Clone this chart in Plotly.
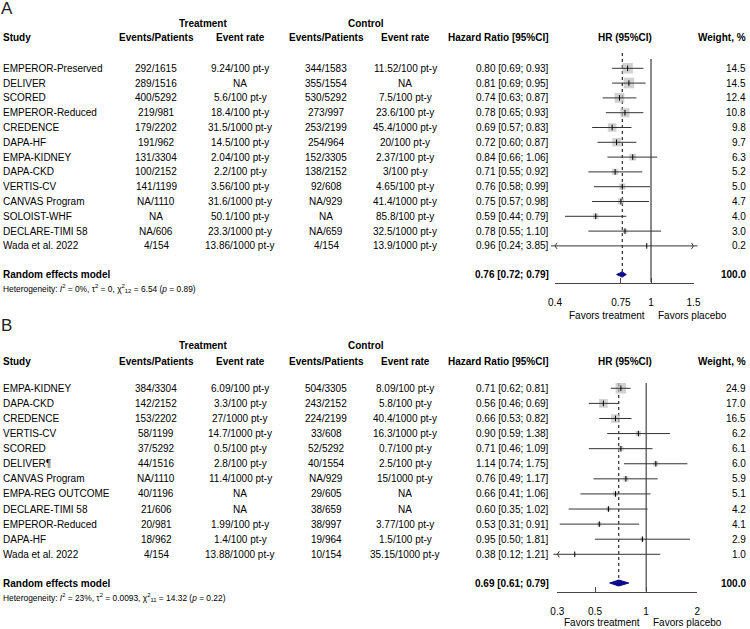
import math
import plotly.graph_objects as go

W, H = 750, 629
FONT = "Liberation Sans, Arial, Helvetica, sans-serif"

# ---------------- Panel A data ----------------
a_study = ["EMPEROR-Preserved", "DELIVER", "SCORED", "EMPEROR-Reduced", "CREDENCE", "DAPA-HF",
           "EMPA-KIDNEY", "DAPA-CKD", "VERTIS-CV", "CANVAS Program", "SOLOIST-WHF",
           "DECLARE-TIMI 58", "Wada et al. 2022"]
a_trt_ep = ["292/1615", "289/1516", "400/5292", "219/981", "179/2202", "191/962", "131/3304",
            "100/2152", "141/1199", "NA/1110", "NA", "NA/606", "4/154"]
a_trt_rate = ["9.24/100 pt-y", "NA", "5.6/100 pt-y", "18.4/100 pt-y", "31.5/1000 pt-y",
              "14.5/100 pt-y", "2.04/100 pt-y", "2.2/100 pt-y", "3.56/100 pt-y",
              "31.6/1000 pt-y", "50.1/100 pt-y", "23.3/1000 pt-y", "13.86/1000 pt-y"]
a_ctl_ep = ["344/1583", "355/1554", "530/5292", "273/997", "253/2199", "254/964", "152/3305",
            "138/2152", "92/608", "NA/929", "NA", "NA/659", "4/154"]
a_ctl_rate = ["11.52/100 pt-y", "NA", "7.5/100 pt-y", "23.6/100 pt-y", "45.4/1000 pt-y",
              "20/100 pt-y", "2.37/100 pt-y", "3/100 pt-y", "4.65/100 pt-y",
              "41.4/1000 pt-y", "85.8/100 pt-y", "32.5/1000 pt-y", "13.9/1000 pt-y"]
a_hr = [0.80, 0.81, 0.74, 0.78, 0.69, 0.72, 0.84, 0.71, 0.76, 0.75, 0.59, 0.78, 0.96]
a_lo = [0.69, 0.69, 0.63, 0.65, 0.57, 0.60, 0.66, 0.55, 0.58, 0.57, 0.44, 0.55, 0.24]
a_hi = [0.93, 0.95, 0.87, 0.93, 0.83, 0.87, 1.06, 0.92, 0.99, 0.98, 0.79, 1.10, 3.85]
a_weight = [14.5, 14.5, 12.4, 10.8, 9.8, 9.7, 6.3, 5.2, 5.0, 4.7, 4.0, 3.0, 0.2]
a_summary = [0.76, 0.72, 0.79]
a_total_weight = 100.0
a_het = ("Heterogeneity: <i>I</i><sup>2</sup> = 0%, τ<sup>2</sup> = 0, "
         "χ<sup>2</sup><sub>12</sub> = 6.54 (<i>p</i> = 0.89)")
a_ticks = [0.4, 0.75, 1, 1.5]
a_ticktext = ["0.4", "0.75", "1", "1.5"]

# ---------------- Panel B data ----------------
b_study = ["EMPA-KIDNEY", "DAPA-CKD", "CREDENCE", "VERTIS-CV", "SCORED", "DELIVER¶",
           "CANVAS Program", "EMPA-REG OUTCOME", "DECLARE-TIMI 58", "EMPEROR-Reduced",
           "DAPA-HF", "Wada et al. 2022"]
b_trt_ep = ["384/3304", "142/2152", "153/2202", "58/1199", "37/5292", "44/1516", "NA/1110",
            "40/1196", "21/606", "20/981", "18/962", "4/154"]
b_trt_rate = ["6.09/100 pt-y", "3.3/100 pt-y", "27/1000 pt-y", "14.7/1000 pt-y",
              "0.5/100 pt-y", "2.8/100 pt-y", "11.4/1000 pt-y", "NA", "NA",
              "1.99/100 pt-y", "1.4/100 pt-y", "13.88/1000 pt-y"]
b_ctl_ep = ["504/3305", "243/2152", "224/2199", "33/608", "52/5292", "40/1554", "NA/929",
            "29/605", "38/659", "38/997", "19/964", "10/154"]
b_ctl_rate = ["8.09/100 pt-y", "5.8/100 pt-y", "40.4/1000 pt-y", "16.3/1000 pt-y",
              "0.7/100 pt-y", "2.5/100 pt-y", "15/1000 pt-y", "NA", "NA",
              "3.77/100 pt-y", "1.5/100 pt-y", "35.15/1000 pt-y"]
b_hr = [0.71, 0.56, 0.66, 0.90, 0.71, 1.14, 0.76, 0.66, 0.60, 0.53, 0.95, 0.38]
b_lo = [0.62, 0.46, 0.53, 0.59, 0.46, 0.74, 0.49, 0.41, 0.35, 0.31, 0.50, 0.12]
b_hi = [0.81, 0.69, 0.82, 1.38, 1.09, 1.75, 1.17, 1.06, 1.02, 0.91, 1.81, 1.21]
b_weight = [24.9, 17.0, 16.5, 6.2, 6.1, 6.0, 5.9, 5.1, 4.2, 4.1, 2.9, 1.0]
b_summary = [0.69, 0.61, 0.79]
b_total_weight = 100.0
b_het = ("Heterogeneity: <i>I</i><sup>2</sup> = 23%, τ<sup>2</sup> = 0.0093, "
         "χ<sup>2</sup><sub>11</sub> = 14.32 (<i>p</i> = 0.22)")
b_ticks = [0.3, 0.5, 1, 2]
b_ticktext = ["0.3", "0.5", "1", "2"]

# ---------------- layout constants (pixels) ----------------
COL = dict(study=2, trt_ep=156, trt_rate=240, trt_head=203, ctl_ep=326, ctl_rate=405,
           ctl_head=366, hr=550, hrplot=625, weight=747)

panels = [
    dict(name="A", xa="x", ya="y", study=a_study, trt_ep=a_trt_ep, trt_rate=a_trt_rate,
         ctl_ep=a_ctl_ep, ctl_rate=a_ctl_rate, hr=a_hr, lo=a_lo, hi=a_hi, w=a_weight,
         summ=a_summary, tot=a_total_weight, het=a_het, ticks=a_ticks, ticktext=a_ticktext,
         row0=68.3, step=14.8, top=0, axis=282.5, xl=555, xr=693.5,
         letter=8, grp=23.3, head=37.3, summ_px=274.5, het_px=288.5, fav=316,
         ref_top=59, dot_top=53, refcolor="#8a8a8a", refwidth=2, diam=2.6),
    dict(name="B", xa="x2", ya="y2", study=b_study, trt_ep=b_trt_ep, trt_rate=b_trt_rate,
         ctl_ep=b_ctl_ep, ctl_rate=b_ctl_rate, hr=b_hr, lo=b_lo, hi=b_hi, w=b_weight,
         summ=b_summary, tot=b_total_weight, het=b_het, ticks=b_ticks, ticktext=b_ticktext,
         row0=388.3, step=15.09, top=318, axis=591.5, xl=557.3, xr=697.3,
         letter=325, grp=345, head=361, summ_px=583, het_px=597.5, fav=622,
         ref_top=383, dot_top=383, refcolor="#222222", refwidth=1, diam=3.0),
]

fig = go.Figure()
annotations = []


def ppaper(p):
    return 1 - p / H


def txt(text, xpx, ypaper, anchor="center", size=10, color="black"):
    annotations.append(dict(text=text, x=xpx / W, y=ypaper, xref="paper", yref="paper",
                            xanchor=anchor, yanchor="middle", showarrow=False, borderpad=0,
                            font=dict(family=FONT, size=size, color=color)))


layout_axes = {}
for P in panels:
    row_of = lambda p, P=P: (p - P["row0"]) / P["step"]
    px_of = lambda r, P=P: P["row0"] + r * P["step"]
    xmin, xmax = P["ticks"][0], P["ticks"][-1]
    n = len(P["study"])
    rows = list(range(n))
    r_sum = row_of(P["summ_px"])
    r_axis = row_of(P["axis"])

    # reference line at HR = 1
    fig.add_trace(go.Scatter(x=[1, 1], y=[row_of(P["ref_top"]), r_axis], mode="lines",
                             line=dict(color=P["refcolor"], width=P["refwidth"]),
                             xaxis=P["xa"], yaxis=P["ya"], hoverinfo="skip"))
    # dotted summary line
    fig.add_trace(go.Scatter(x=[P["summ"][0]] * 2, y=[row_of(P["dot_top"]), r_sum],
                             mode="lines", line=dict(color="black", width=1, dash="dot"),
                             xaxis=P["xa"], yaxis=P["ya"], hoverinfo="skip"))
    # squares (area proportional to weight)
    wmax = max(P["w"])
    sizes = [10.5 * math.sqrt(w / wmax) for w in P["w"]]
    fig.add_trace(go.Scatter(x=P["hr"], y=rows, mode="markers",
                             marker=dict(symbol="square", size=sizes, color="#BEBEBE",
                                         line=dict(width=0)),
                             xaxis=P["xa"], yaxis=P["ya"], hoverinfo="skip"))
    # CI lines (clipped to axis range), arrows where clipped
    cx, cy = [], []
    ax_l, ay_l, ax_r, ay_r = [], [], [], []
    for r, lo, hi, est in zip(rows, P["lo"], P["hi"], P["hr"]):
        cx += [max(lo, xmin), min(hi, xmax), None]
        cy += [r, r, None]
        if lo < xmin:
            ax_l.append(xmin)
            ay_l.append(r)
        if hi > xmax:
            ax_r.append(xmax)
            ay_r.append(r)
    fig.add_trace(go.Scatter(x=cx, y=cy, mode="lines", line=dict(color="#333333", width=1),
                             xaxis=P["xa"], yaxis=P["ya"], hoverinfo="skip"))
    for axs, ays, sym in [(ax_l, ay_l, "y-left"), (ax_r, ay_r, "y-right")]:
        if axs:
            fig.add_trace(go.Scatter(x=axs, y=ays, mode="markers",
                                     marker=dict(symbol=sym, size=5,
                                                 line=dict(width=1, color="#333333")),
                                     xaxis=P["xa"], yaxis=P["ya"], hoverinfo="skip",
                                     cliponaxis=False))
    # point estimate ticks
    fig.add_trace(go.Scatter(x=P["hr"], y=rows, mode="markers",
                             marker=dict(symbol="line-ns", size=4,
                                         line=dict(width=1, color="black")),
                             xaxis=P["xa"], yaxis=P["ya"], hoverinfo="skip"))
    # summary diamond
    est, slo, shi = P["summ"]
    dh = P["diam"] / P["step"]
    fig.add_trace(go.Scatter(x=[slo, est, shi, est, slo], y=[r_sum, r_sum - dh, r_sum, r_sum + dh, r_sum],
                             mode="lines", fill="toself", fillcolor="#0A0A8A",
                             line=dict(color="#0A0A8A", width=1),
                             xaxis=P["xa"], yaxis=P["ya"], hoverinfo="skip"))

    # ------- text -------
    txt(P["name"], 0, ppaper(P["letter"]), anchor="left", size=17, color="#222222")
    txt("<b>Treatment</b>", COL["trt_head"], ppaper(P["grp"]))
    txt("<b>Control</b>", COL["ctl_head"], ppaper(P["grp"]))
    hy = ppaper(P["head"])
    txt("<b>Study</b>", COL["study"], hy, anchor="left")
    txt("<b>Events/Patients</b>", COL["trt_ep"], hy)
    txt("<b>Event rate</b>", COL["trt_rate"], hy)
    txt("<b>Events/Patients</b>", COL["ctl_ep"], hy)
    txt("<b>Event rate</b>", COL["ctl_rate"], hy)
    txt("<b>Hazard Ratio [95%CI]</b>", COL["hr"], hy, anchor="right")
    txt("<b>HR (95%CI)</b>", COL["hrplot"], hy)
    txt("<b>Weight, %</b>", COL["weight"], hy, anchor="right")
    for i in range(n):
        ry = ppaper(px_of(i))
        txt(P["study"][i], COL["study"], ry, anchor="left")
        txt(P["trt_ep"][i], COL["trt_ep"], ry)
        txt(P["trt_rate"][i], COL["trt_rate"], ry)
        txt(P["ctl_ep"][i], COL["ctl_ep"], ry)
        txt(P["ctl_rate"][i], COL["ctl_rate"], ry)
        txt(f"{P['hr'][i]:.2f} [{P['lo'][i]:.2f}; {P['hi'][i]:.2f}]", COL["hr"], ry, anchor="right")
        txt(f"{P['w'][i]:.1f}", COL["weight"], ry, anchor="right")
    sy = ppaper(P["summ_px"])
    txt("<b>Random effects model</b>", COL["study"], sy, anchor="left")
    txt(f"<b>{est:.2f} [{slo:.2f}; {shi:.2f}]</b>", COL["hr"], sy, anchor="right")
    txt(f"<b>{P['tot']:.1f}</b>", COL["weight"], sy, anchor="right")
    txt(P["het"], COL["study"], ppaper(P["het_px"]), anchor="left", size=8.4)
    # favors labels around the reference line
    for label, anc, shift in [("Favors treatment", "right", -5), ("Favors placebo", "left", 6)]:
        annotations.append(dict(text=label, x=0, y=ppaper(P["fav"]), xref=P["xa"], yref="paper",
                                xanchor=anc, yanchor="middle", xshift=shift, showarrow=False,
                                borderpad=0, font=dict(family=FONT, size=10, color="black")))

    xkey = "xaxis" if P["xa"] == "x" else "xaxis2"
    ykey = "yaxis" if P["ya"] == "y" else "yaxis2"
    layout_axes[xkey] = dict(type="log", range=[math.log10(xmin), math.log10(xmax)],
                             domain=[P["xl"] / W, P["xr"] / W], anchor=P["ya"],
                             showline=True, linecolor="#444444", linewidth=1,
                             ticks="inside", ticklen=5, tickcolor="#444444", tickwidth=1,
                             tickvals=P["ticks"], ticktext=P["ticktext"],
                             tickfont=dict(family=FONT, size=10, color="black"),
                             ticklabelstandoff=10, automargin=False,
                             showgrid=False, zeroline=False, fixedrange=True)
    layout_axes[ykey] = dict(domain=[ppaper(P["axis"]), ppaper(P["top"])],
                             range=[r_axis, row_of(P["top"])], automargin=False,
                             visible=False, showgrid=False, zeroline=False, fixedrange=True)

fig.update_layout(template="none", width=W, height=H, autosize=False,
                  margin=dict(l=0, r=0, t=0, b=0, pad=0, autoexpand=False),
                  paper_bgcolor="white", plot_bgcolor="rgba(0,0,0,0)",
                  showlegend=False, annotations=annotations, hovermode=False,
                  font=dict(family=FONT, size=10, color="black"), **layout_axes)

fig.write_html("out.html", config=dict(displayModeBar=False, staticPlot=True),
               post_script="document.body.style.margin='0';document.body.style.overflow='hidden';")
